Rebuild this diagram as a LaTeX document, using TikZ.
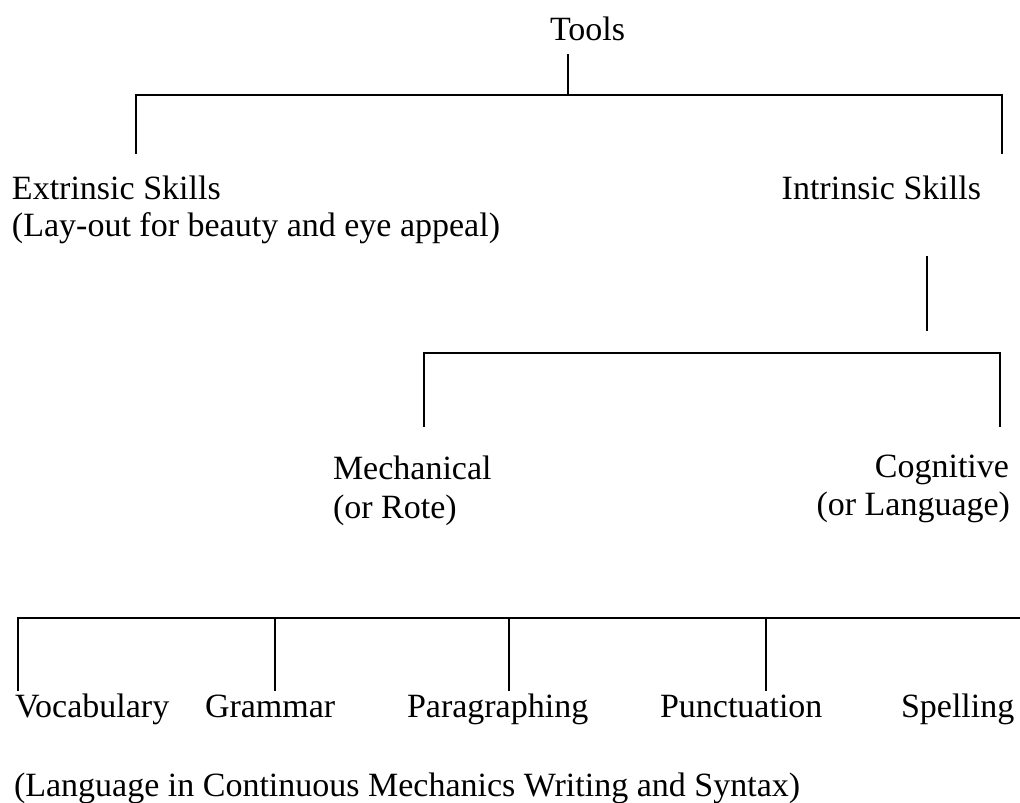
\documentclass[tikz,border=0pt]{standalone}
\usepackage{fontspec}
\setmainfont{Liberation Serif}
\begin{document}
\begin{tikzpicture}[x=1pt,y=-1pt,
  lbl/.style={inner sep=0pt,outer sep=0pt,font=\fontsize{34}{39}\selectfont},
  lw/.style={anchor=base west,lbl},
  le/.style={anchor=base east,lbl},
  conn/.style={line width=2pt,line cap=rect}]
\useasboundingbox[fill=white] (0,0) rectangle (1020,803);
% texts
\node[lw] (tools) at (550,40) {Tools};
\node[lw] (ext) at (12,199) {Extrinsic Skills};
\node[lw] (ext2) at (12,236) {(Lay-out for beauty and eye appeal)};
\node[le] (int) at (981,199) {Intrinsic Skills};
\node[lw] (mech) at (333,479) {Mechanical};
\node[lw] (mech2) at (333,518) {(or Rote)};
\node[le] (cog) at (1009,477) {Cognitive};
\node[le] (cog2) at (1010,515) {(or Language)};
\node[lw] (voc) at (15,717) {Vocabulary};
\node[lw] (gram) at (205,717) {Grammar};
\node[lw] (para) at (407,717) {Paragraphing};
\node[lw] (punc) at (660,717) {Punctuation};
\node[lw] (spel) at (901,717) {Spelling};
\node[lw] (lang) at (14,796) {(Language in Continuous Mechanics Writing and Syntax)};
% connector points
\coordinate (t0) at (568,55);
\coordinate (t1) at (568,95);
\coordinate (tL) at (136,95);
\coordinate (tR) at (1002,95);
\coordinate (tLd) at (136,153);
\coordinate (tRd) at (1002,153);
\coordinate (i0) at (927,257);
\coordinate (i1) at (927,330);
\coordinate (mL) at (424,353);
\coordinate (mR) at (1000,353);
\coordinate (mLd) at (424,426);
\coordinate (mRd) at (1000,426);
\coordinate (bL) at (17.5,618);
\coordinate (bR) at (1021,618);
\coordinate (b1) at (274.5,618);
\coordinate (b2) at (509,618);
\coordinate (b3) at (766,618);
\coordinate (bLd) at (17.5,690);
\coordinate (b1d) at (274.5,690);
\coordinate (b2d) at (509,690);
\coordinate (b3d) at (766,690);
% connectors
\draw[conn] (t0) -- (t1);
\draw[conn] (tLd) -- (tL) -- (tR) -- (tRd);
\draw[conn] (i0) -- (i1);
\draw[conn] (mLd) -- (mL) -- (mR) -- (mRd);
\draw[conn] (bLd) -- (bL) -- (bR);
\draw[conn] (b1) -- (b1d);
\draw[conn] (b2) -- (b2d);
\draw[conn] (b3) -- (b3d);
\end{tikzpicture}
\end{document}
